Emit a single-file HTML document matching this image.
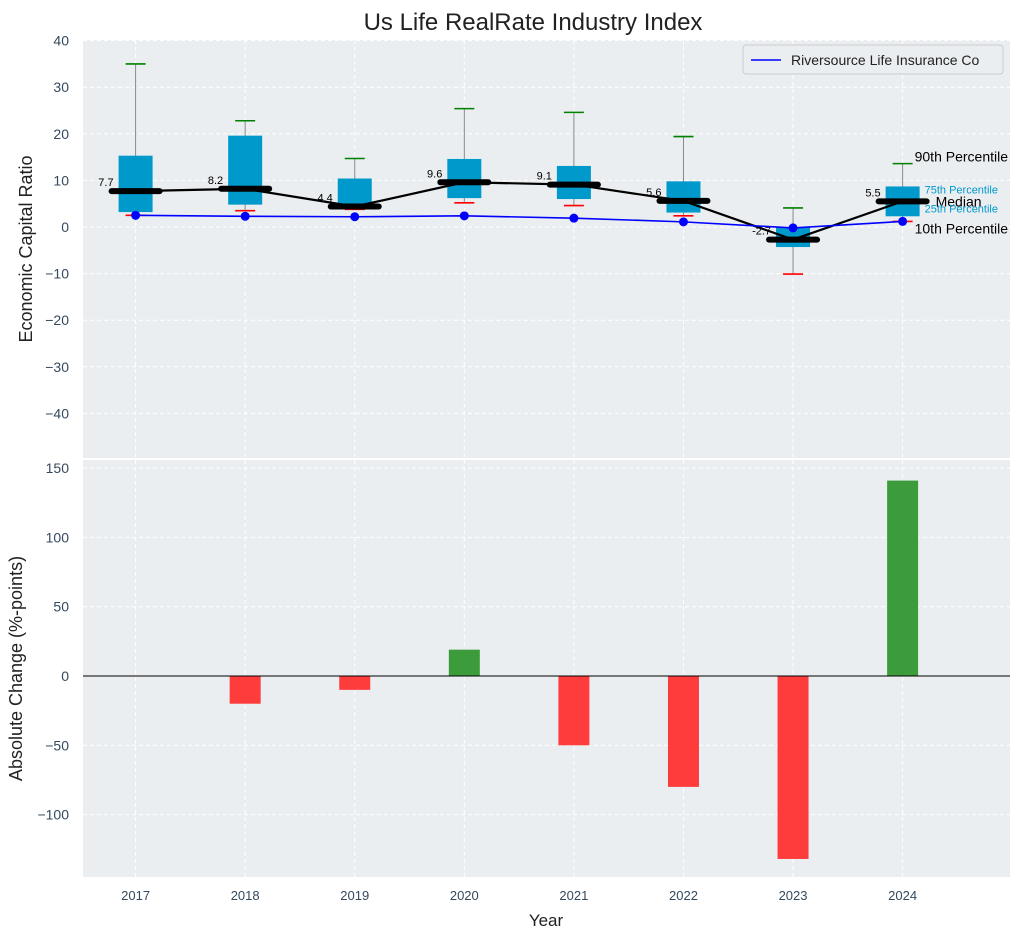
<!DOCTYPE html>
<html><head><meta charset="utf-8"><style>
body{margin:0;background:#fff;font-family:"Liberation Sans",sans-serif}
svg text{font-family:"Liberation Sans",sans-serif}
</style></head><body>
<svg id="c" width="1034" height="940" xmlns="http://www.w3.org/2000/svg"></svg>
<script>
const years=[2017,2018,2019,2020,2021,2022,2023,2024];
const p10=[2.5,3.5,3.8,5.2,4.6,2.4,-10.1,1.2];
const p25=[3.2,4.8,3.9,6.2,6.0,3.1,-4.3,2.3];
const med=[7.7,8.2,4.4,9.6,9.1,5.6,-2.7,5.5];
const p75=[15.3,19.6,10.4,14.6,13.1,9.8,0.0,8.7];
const p90=[35,22.8,14.7,25.4,24.6,19.4,4.1,13.6];
const company=[2.5,2.3,2.2,2.4,1.9,1.1,-0.2,1.2];
const change=[0,-20,-10,19,-50,-80,-132,141];
const topTicks=[40,30,20,10,0,-10,-20,-30,-40];
const botTicks=[150,100,50,0,-50,-100];

const S=document.getElementById('c');const NS='http://www.w3.org/2000/svg';
function el(t,a,txt,p){const e=document.createElementNS(NS,t);for(const k in a)e.setAttribute(k,a[k]);if(txt!=null)e.textContent=txt;(p||S).appendChild(e);return e;}
const L=83,R=1010;
const X=v=>L+(v-2016.52)/(2024.98-2016.52)*(R-L);
const T0=40,T1=458,B0=460,B1=877;
const YT=v=>227-v*4.66;
const YB=v=>676-v*1.386;

let e=el('text',{x:533,y:30,'text-anchor':'middle','font-size':24,fill:'#222'},'Us Life RealRate Industry Index');


e=el('rect',{x:L,y:T0,width:R-L,height:T1-T0,fill:'#eaeef0'});

e=el('rect',{x:L,y:B0,width:R-L,height:B1-B0,fill:'#eaeef0'});


topTicks.forEach(t=>{const y=YT(t);
 el('line',{x1:L,x2:R,y1:y,y2:y,stroke:'#fff','stroke-dasharray':'4,3','stroke-width':1});
 e=el('text',{x:L-14,y:y+5,'text-anchor':'end','font-size':14,fill:'#34495e'},t<0?'\u2212'+(-t):t);
 });
botTicks.forEach(t=>{const y=YB(t);
 el('line',{x1:L,x2:R,y1:y,y2:y,stroke:'#fff','stroke-dasharray':'4,3','stroke-width':1});
 e=el('text',{x:L-14,y:y+5,'text-anchor':'end','font-size':14,fill:'#34495e'},t<0?'\u2212'+(-t):t);
 });
years.forEach(yr=>{const x=X(yr);
 el('line',{x1:x,x2:x,y1:T0,y2:T1,stroke:'#fff','stroke-dasharray':'4,3'});
 el('line',{x1:x,x2:x,y1:B0,y2:B1,stroke:'#fff','stroke-dasharray':'4,3'});
 e=el('text',{x:x,y:B1+23,'text-anchor':'middle','font-size':13,fill:'#34495e'},yr);
 });

years.forEach((yr,i)=>{const x=X(yr);
 e=el('line',{x1:x,x2:x,y1:YT(p90[i]),y2:YT(p10[i]),stroke:'#888','stroke-width':1});
 
 e=el('rect',{x:x-17,y:YT(p75[i]),width:34,height:YT(p25[i])-YT(p75[i]),fill:'#0099cc'});
 
 e=el('line',{x1:x-10,x2:x+10,y1:YT(p90[i]),y2:YT(p90[i]),stroke:'green','stroke-width':1.6});
 
 e=el('line',{x1:x-10,x2:x+10,y1:YT(p10[i]),y2:YT(p10[i]),stroke:'red','stroke-width':1.6});
 
});
e=el('polyline',{points:years.map((y,i)=>X(y)+','+YT(med[i])).join(' '),fill:'none',stroke:'#000','stroke-width':2.2});

years.forEach((yr,i)=>{const x=X(yr);
 e=el('line',{x1:x-24,x2:x+24,y1:YT(med[i]),y2:YT(med[i]),stroke:'#000','stroke-width':6,'stroke-linecap':'round'});
 
 e=el('text',{x:x-22,y:YT(med[i])-5,'text-anchor':'end','font-size':11,fill:'#000'},med[i].toFixed(1));
 });
e=el('polyline',{points:years.map((y,i)=>X(y)+','+YT(company[i])).join(' '),fill:'none',stroke:'blue','stroke-width':1.6});

years.forEach((yr,i)=>{e=el('circle',{cx:X(yr),cy:YT(company[i]),r:4.5,fill:'blue'});
 });

const lx=X(2024);
[['90th Percentile',p90[7],12,14,'#000',-2],['75th Percentile',p75[7],22,11,'#0099cc',7],['Median',med[7],33,14,'#000',5],['25th Percentile',p25[7],22,11,'#0099cc',-4],['10th Percentile',p10[7],12,14,'#000',12]].forEach(a=>{
 e=el('text',{x:lx+a[2],y:YT(a[1])+a[5],'font-size':a[3],fill:a[4]},a[0]);
 });

years.forEach((yr,i)=>{const x=X(yr);const v=change[i];if(v===0)return;
 e=el('rect',{x:x-15.5,y:Math.min(YB(v),YB(0)),width:31,height:Math.abs(YB(v)-YB(0)),fill:v>0?'#3c9c3c':'#ff3c3c'});
 });
e=el('line',{x1:L,x2:R,y1:YB(0),y2:YB(0),stroke:'#000','stroke-width':1});


e=el('text',{x:32,y:(T0+T1)/2,'text-anchor':'middle','font-size':18,fill:'#222',transform:`rotate(-90 32 ${(T0+T1)/2})`},'Economic Capital Ratio');

e=el('text',{x:22,y:(B0+B1)/2,'text-anchor':'middle','font-size':18,fill:'#222',transform:`rotate(-90 22 ${(B0+B1)/2})`},'Absolute Change (%-points)');

e=el('text',{x:546,y:926,'text-anchor':'middle','font-size':17,fill:'#222'},'Year');


const g=el('g',{});
el('rect',{x:743,y:45,width:260,height:29,rx:3,fill:'#eaeef0',stroke:'#ccc'},null,g);
el('line',{x1:751,x2:781,y1:60,y2:60,stroke:'blue','stroke-width':1.6},null,g);
el('text',{x:791,y:65,'font-size':14,fill:'#222'},'Riversource Life Insurance Co',g);
</script>
</body></html>
